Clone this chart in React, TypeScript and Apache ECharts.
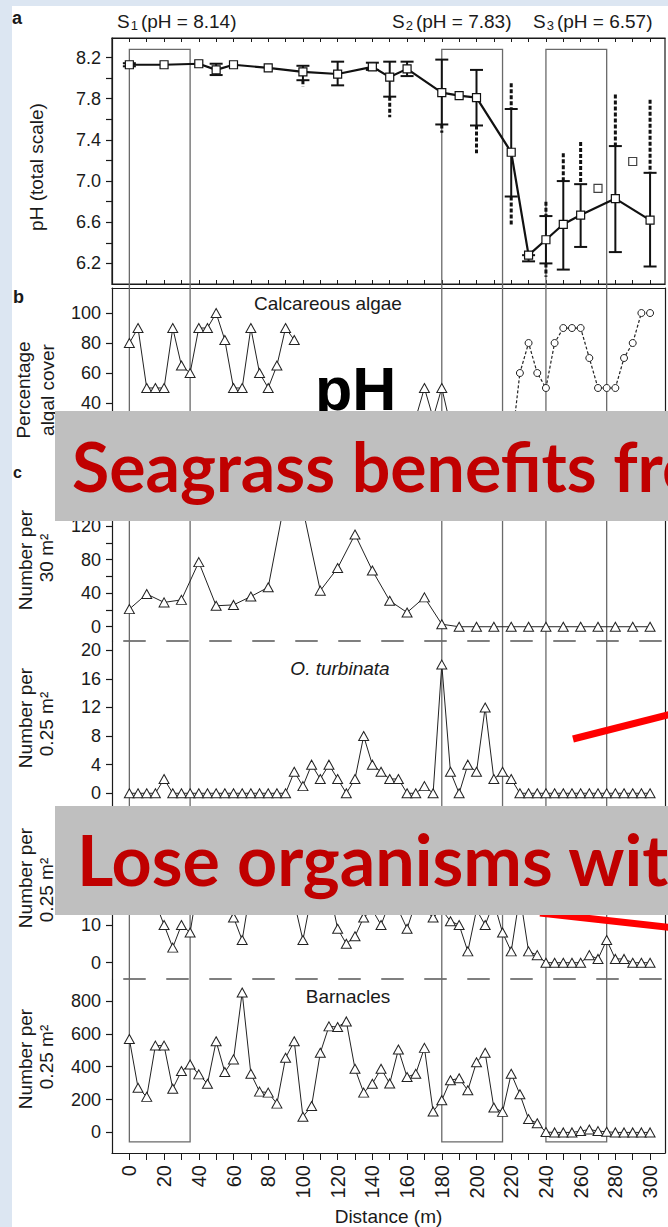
import React, { useEffect, useRef } from "react";
import * as echarts from "echarts";

const FONT = "'Liberation Sans', Arial, sans-serif";
const SLIDE_FONT = "Lato, 'Open Sans', sans-serif";
const INK = "#1a1a1a";

// Transect stations (m)
const stations5 = [0, 5, 10, 15, 20, 25, 30, 35, 40, 45, 50, 55, 60, 65, 70, 75, 80, 85, 90, 95, 100, 105, 110, 115, 120, 125, 130, 135, 140, 145, 150, 155, 160, 165, 170, 175, 180, 185, 190, 195, 200, 205, 210, 215, 220, 225, 230, 235, 240, 245, 250, 255, 260, 265, 270, 275, 280, 285, 290, 295, 300];
const stations10 = [0, 10, 20, 30, 40, 50, 60, 70, 80, 90, 100, 110, 120, 130, 140, 150, 160, 170, 180, 190, 200, 210, 220, 230, 240, 250, 260, 270, 280, 290, 300];
const distanceLabels = [0, 20, 40, 60, 80, 100, 120, 140, 160, 180, 200, 220, 240, 260, 280, 300];

// a: pH (total scale)
const phDistance = [0, 20, 40, 50, 60, 80, 100, 120, 140, 150, 160, 180, 190, 200, 220, 230, 240, 250, 260, 280, 300];
const phMean = [8.13, 8.13, 8.14, 8.08, 8.13, 8.1, 8.06, 8.04, 8.11, 8.01, 8.09, 7.86, 7.83, 7.81, 7.28, 6.28, 6.43, 6.58, 6.67, 6.83, 6.62];
const phLow = [8.115, null, null, 8.03, null, null, 7.98, 7.93, 8.08, 7.82, 8.02, 7.55, null, 7.54, 6.85, 6.22, 6.2, 6.14, 6.36, 6.31, 6.17];
const phHigh = [8.145, null, null, 8.14, null, null, 8.12, 8.16, 8.15, 8.16, 8.16, 8.18, null, 8.08, 7.7, 6.28, 6.66, 7.0, 6.97, 7.34, 7.08];
const phRangeLow = [null, null, null, null, null, null, 7.92, null, null, 7.62, null, 7.47, null, 7.27, 6.57, null, 6.07, null, null, null, null];
const phRangeHigh = [null, null, null, null, null, null, null, null, null, null, null, null, null, null, 7.95, null, 6.8, 7.27, 7.38, 7.84, 7.79];
const phExtraDistance = [270, 290];
const phExtraValue = [6.93, 7.19];
const phTicks = [6.2, 6.4, 6.6, 6.8, 7.0, 7.2, 7.4, 7.6, 7.8, 8.0, 8.2];
const phLabels = [6.2, 6.6, 7.0, 7.4, 7.8, 8.2];

// b: calcareous algae, percentage cover
const algaeSolid = [80, 90, 50, 50, 50, 90, 65, 60, 90, 90, 100, 82, 50, 50, 90, 60, 50, 65, 90, 82,
  null, null, null, null, null, null, null, null, null, null, null, null, null,
  30, 50, 30, 50, 25,
  null, null, null, null, null, null, null, null, null, null, null, null, null, null, null, null, null, null, null, null, null, null, null];
const algaeDotted = [null, null, null, null, null, null, null, null, null, null, null, null, null, null, null, null, null, null, null, null, null, null,
  null, null, null, null, null, null, null, null, null, null, null, null, null, null, null, null, null, null, null, null, null, null,
  10, 60, 80, 60, 50, 80, 90, 90, 90, 70, 50, 50, 50, 70, 80, 100, 100];
const algaeTicks = [0, 20, 40, 60, 80, 100];
const algaeLabels = [40, 60, 80, 100];

// c: number per 30 m2
const countPer30 = [21, 39, 29, 32, 77, 25, 26, 36, 47, 155, 140, 43, 70, 110, 67, 31, 17, 35, 3, 0, 0, 0, 0, 0, 0, 0, 0, 0, 0, 0, 0];
const per30Ticks = [0, 20, 40, 60, 80, 100, 120, 140, 160];
const per30Labels = [0, 40, 80, 120];

// O. turbinata, number per 0.25 m2
const turbinata = [0, 0, 0, 0, 2, 0, 0, 0, 0, 0, 0, 0, 0, 0, 0, 0, 0, 0, 0, 3, 1, 4, 2, 4, 2, 0, 2, 8, 4, 3, 2, 2, 0, 0, 1, 0, 18, 3, 0, 4, 3, 12, 2, 3, 2,
  0, 0, 0, 0, 0, 0, 0, 0, 0, 0, 0, 0, 0, 0, 0, 0];
const turbinataTicks = [0, 4, 8, 12, 16, 20];

// Fourth count panel, number per 0.25 m2
const gastropods = [22, 18, 16, 16, 10, 4, 10, 8, 22, 20, 18, 16, 12, 6, 20, 24, 22, 20, 18, 16, 6, 18, 16, 20, 9, 5, 7, 12, 14, 10, 16, 14, 9, 16, 14, 12, 14, 11, 10, 3, 14, 10, 16, 8, 3, 18, 3, 2,
  0, 0, 0, 0, 0, 2, 1, 6, 1, 1, 0, 0, 0];
const gastropodTicks = [0, 10, 20, 30, 40];
const gastropodLabels = [0, 10];

// Barnacles, number per 0.25 m2
const barnacles = [568, 272, 216, 528, 528, 266, 373, 413, 353, 296, 554, 367, 444, 851, 357, 248, 242, 175, 454, 554, 95, 161, 484, 645, 641, 675, 387, 242, 296, 387, 298, 504, 337, 357, 514, 127, 196, 317, 329, 256, 427, 484, 151, 125, 357, 232, 81, 56,
  2, 0, 0, 0, 8, 18, 8, 4, 0, 0, 0, 0, 0];
const barnacleTicks = [0, 200, 400, 600, 800];

// Sampling sites along the transect
const zoneStart = [0, 180, 240];
const zoneEnd = [35, 215, 275];
const siteIndex = ["1", "2", "3"];
const sitePH = ["8.14", "7.83", "6.57"];
const ZONE_TOP_PH = 8.28;
const ZONE_BOTTOM_COUNT = -57;

const X_MIN = -10;
const X_MAX = 308.6;

const pairs = (xs: number[], ys: (number | null)[]) => xs.map((x, i) => [x, ys[i] == null ? null : ys[i]]);

function hiddenX(gridIndex: number) {
  return {
    type: "value", gridIndex, min: X_MIN, max: X_MAX, interval: 10, show: false,
    axisLine: { onZero: false }, splitLine: { show: false },
  };
}

function frameX(gridIndex: number, position: string, opts: any) {
  return {
    type: "value", gridIndex, position, min: X_MIN, max: X_MAX, interval: 10,
    splitLine: { show: false },
    axisLine: { show: true, onZero: false, lineStyle: opts.line || { color: INK, width: 1.2 } },
    axisTick: opts.ticks
      ? { show: true, inside: opts.inside, length: opts.tickLength || 4, customValues: stations10, lineStyle: { color: INK, width: 1 } }
      : { show: false },
    axisLabel: opts.labels
      ? {
          show: true, rotate: 90, margin: 12, customValues: distanceLabels,
          formatter: (v: number) => (v >= 0 && v % 20 === 0 ? String(v) : ""),
          fontFamily: FONT, fontSize: 20, color: INK,
        }
      : { show: false },
  };
}

function leftY(gridIndex: number, min: number, max: number, ticks: number[], labels: number[], digits: number) {
  return {
    type: "value", gridIndex, position: "left", min, max,
    splitLine: { show: false },
    axisLine: { show: true, onZero: false, lineStyle: { color: INK, width: 1.2 } },
    axisTick: { show: true, length: 6, customValues: ticks, lineStyle: { color: INK, width: 1.2 } },
    axisLabel: {
      show: true, margin: 11, customValues: labels,
      formatter: (v: number) => (labels.some((l) => Math.abs(l - v) < 1e-6) ? v.toFixed(digits) : ""),
      fontFamily: FONT, fontSize: 18, color: INK,
    },
  };
}

function rightFrame(gridIndex: number) {
  return {
    type: "value", gridIndex, position: "right", min: 0, max: 1,
    splitLine: { show: false },
    axisLine: { show: true, onZero: false, lineStyle: { color: INK, width: 1.2 } },
    axisTick: { show: false }, axisLabel: { show: false },
  };
}

const countLine = (xAxisIndex: number, yAxisIndex: number, xs: number[], ys: (number | null)[]) => ({
  type: "line", xAxisIndex, yAxisIndex, data: pairs(xs, ys), z: 3,
  symbol: "triangle", symbolSize: [10, 9],
  itemStyle: { color: "#ffffff", borderColor: "#222", borderWidth: 1 },
  lineStyle: { color: "#222", width: 1 },
});

const dashed = { color: "#7f7f7f", width: 2, type: [21, 22], dashOffset: 31 };

function buildOption() {
  const errorData = phDistance
    .map((d, i) => [d, phLow[i], phHigh[i], phRangeLow[i] ?? phLow[i], phRangeHigh[i] ?? phHigh[i]])
    .filter((r) => r[1] != null);

  return {
    animation: false,
    backgroundColor: "#ffffff",
    grid: [
      { left: 112, right: 3, top: 38, height: 246, show: true, borderColor: INK, borderWidth: 1.2 },
      { left: 112, right: 3, top: 288, height: 182 },
      { left: 112, right: 3, top: 470, height: 171 },
      { left: 112, right: 3, top: 641, height: 167 },
      { left: 112, right: 3, top: 808, height: 171 },
      { left: 112, right: 3, top: 979, height: 175 },
    ],
    xAxis: [
      frameX(0, "bottom", { ticks: true, inside: true }), // 0
      frameX(0, "top", { ticks: true, inside: true }), // 1
      frameX(1, "top", {}), // 2
      hiddenX(1), // 3
      hiddenX(2), // 4
      frameX(3, "top", { line: dashed }), // 5
      hiddenX(4), // 6
      frameX(5, "top", { line: dashed }), // 7
      {
        ...frameX(5, "bottom", { ticks: true, inside: false, tickLength: 7, labels: true }), // 8
        name: "Distance (m)", nameLocation: "middle", nameGap: 54,
        nameTextStyle: { fontFamily: FONT, fontSize: 19, color: INK },
      },
    ],
    yAxis: [
      leftY(0, 6.0, 8.39, phTicks, phLabels, 1), // 0
      leftY(1, -4.7, 116.7, algaeTicks, algaeLabels, 0), // 1
      leftY(2, -17, 186.8, per30Ticks, per30Labels, 0), // 2
      leftY(3, -2.06, 21.3, turbinataTicks, turbinataTicks, 0), // 3
      leftY(4, -4.32, 41, gastropodTicks, gastropodLabels, 0), // 4
      leftY(5, -125.2, 933, barnacleTicks, barnacleTicks, 0), // 5
      rightFrame(1), rightFrame(2), rightFrame(3), rightFrame(4), rightFrame(5),
    ],
    series: [
      {
        type: "custom", xAxisIndex: 0, yAxisIndex: 0, z: 2,
        encode: { x: 0, y: [1, 2, 3, 4] },
        data: errorData,
        renderItem: (_params: any, api: any) => {
          const d = api.value(0);
          const [x, yLo] = api.coord([d, api.value(1)]);
          const yHi = api.coord([d, api.value(2)])[1];
          const yRlo = api.coord([d, api.value(3)])[1];
          const yRhi = api.coord([d, api.value(4)])[1];
          const solid = { stroke: "#111", lineWidth: 2 };
          const ext = { stroke: "#111", lineWidth: 3, lineDash: [4, 2] };
          const cap = 6.5;
          const children: any[] = [];
          if (yRlo > yLo + 0.5) children.push({ type: "line", shape: { x1: x, y1: yLo, x2: x, y2: yRlo }, style: ext });
          if (yRhi < yHi - 0.5) children.push({ type: "line", shape: { x1: x, y1: yRhi, x2: x, y2: yHi }, style: ext });
          children.push({ type: "line", shape: { x1: x, y1: yHi, x2: x, y2: yLo }, style: solid });
          children.push({ type: "line", shape: { x1: x - cap, y1: yHi, x2: x + cap, y2: yHi }, style: solid });
          children.push({ type: "line", shape: { x1: x - cap, y1: yLo, x2: x + cap, y2: yLo }, style: solid });
          return { type: "group", children };
        },
      },
      {
        type: "line", xAxisIndex: 0, yAxisIndex: 0, z: 3,
        data: pairs(phDistance, phMean),
        symbol: "rect", symbolSize: 8,
        itemStyle: { color: "#ffffff", borderColor: "#111", borderWidth: 1.2 },
        lineStyle: { color: "#111", width: 2.2 },
      },
      {
        type: "scatter", xAxisIndex: 0, yAxisIndex: 0, z: 3,
        data: pairs(phExtraDistance, phExtraValue),
        symbol: "rect", symbolSize: 8,
        itemStyle: { color: "#ffffff", borderColor: "#111", borderWidth: 1.2 },
      },
      countLine(3, 1, stations5, algaeSolid),
      {
        type: "line", xAxisIndex: 3, yAxisIndex: 1, z: 3,
        data: pairs(stations5, algaeDotted),
        symbol: "circle", symbolSize: 7,
        itemStyle: { color: "#ffffff", borderColor: "#222", borderWidth: 1 },
        lineStyle: { color: "#222", width: 1.2, type: [3, 2] },
      },
      countLine(4, 2, stations10, countPer30),
      countLine(5, 3, stations5, turbinata),
      countLine(6, 4, stations5, gastropods),
      countLine(8, 5, stations5, barnacles),
    ],
  };
}

function label(text: string, x: number, y: number, extra: any = {}, z = 10) {
  return {
    type: "text", x, y, z, silent: true,
    style: { text, fontFamily: FONT, fontSize: 19, fill: INK, align: "left", verticalAlign: "middle", ...extra },
  };
}

function axisName(text: string, x: number, y: number) {
  return {
    type: "text", x, y, z: 10, rotation: Math.PI / 2, silent: true,
    style: { text, fontFamily: FONT, fontSize: 19, fill: INK, align: "center", verticalAlign: "middle" },
  };
}

function slideText(text: string, x: number, y: number, size: number) {
  return {
    type: "text", x, y, z: 101, silent: true,
    style: { text, fontFamily: SLIDE_FONT, fontWeight: "bold", fontSize: size, fill: "#c00000", align: "left", verticalAlign: "middle" },
  };
}

function buildGraphics(chart: any) {
  const px = (d: number) => chart.convertToPixel({ xAxisIndex: 0 }, d) as number;
  const top = chart.convertToPixel({ yAxisIndex: 0 }, ZONE_TOP_PH) as number;
  const bottom = chart.convertToPixel({ yAxisIndex: 5 }, ZONE_BOTTOM_COUNT) as number;

  const zones = zoneStart.map((s, i) => ({
    type: "rect", z: 1, silent: true,
    shape: { x: px(s), y: top, width: px(zoneEnd[i]) - px(s), height: bottom - top },
    style: { fill: "none", stroke: "#6a6a6a", lineWidth: 1.3 },
  }));

  const siteX = [117, 392, 533];
  const sites = siteIndex.map((n, i) =>
    label(`{s|S}{n|${n}}{s|(pH = ${sitePH[i]})}`, siteX[i], 21, {
      rich: {
        s: { fontFamily: FONT, fontSize: 19, lineHeight: 22, fill: INK },
        n: { fontFamily: FONT, fontSize: 13, lineHeight: 12, fill: INK, verticalAlign: "bottom", padding: [0, 3, 0, 1] },
      },
    })
  );

  return [
    ...zones,
    ...sites,
    label("a", 12, 18, { fontWeight: "bold", fontSize: 18 }),
    label("b", 13, 297, { fontWeight: "bold", fontSize: 18 }),
    label("c", 13, 472, { fontWeight: "bold", fontSize: 16 }),
    label("Calcareous algae", 328, 303, { align: "center" }),
    label("O. turbinata", 340, 668, { align: "center", fontStyle: "italic" }),
    label("Barnacles", 348, 996, { align: "center" }),
    axisName("pH (total scale)", 36, 167),
    axisName("Percentage", 23, 390),
    axisName("algal cover", 47, 390),
    axisName("Number per", 25, 560),
    axisName("30 m²", 46, 558),
    axisName("Number per", 25, 718),
    axisName("0.25 m²", 46, 724),
    axisName("Number per", 25, 878),
    axisName("0.25 m²", 46, 890),
    axisName("Number per", 25, 1059),
    axisName("0.25 m²", 46, 1057),
    {
      type: "text", x: 315, y: 419, z: 50, silent: true,
      style: { text: "pH", fontFamily: FONT, fontWeight: "bold", fontSize: 61, fill: "#000", align: "left", verticalAlign: "bottom" },
    },
    { type: "rect", z: 100, silent: true, shape: { x: 55, y: 411, width: 620, height: 110 }, style: { fill: "#bfbfbf" } },
    slideText("Seagrass benefits from", 72, 465, 68),
    { type: "line", z: 99, silent: true, shape: { x1: 540, y1: 913, x2: 675, y2: 928 }, style: { stroke: "#ff0000", lineWidth: 7 } },
    { type: "rect", z: 100, silent: true, shape: { x: 55, y: 806, width: 620, height: 109 }, style: { fill: "#bfbfbf" } },
    slideText("Lose organisms with", 77, 859, 70),
    { type: "line", z: 102, silent: true, shape: { x1: 573, y1: 739, x2: 675, y2: 713 }, style: { stroke: "#ff0000", lineWidth: 7 } },
    { type: "rect", z: 200, silent: true, shape: { x: 0, y: 0, width: 668, height: 6 }, style: { fill: "#dce6f2" } },
    { type: "rect", z: 200, silent: true, shape: { x: 0, y: 0, width: 12, height: 1227 }, style: { fill: "#dce6f2" } },
  ];
}

export default function App() {
  const ref = useRef<HTMLDivElement>(null);
  useEffect(() => {
    document.body.style.margin = "0";
    const chart = echarts.init(ref.current as HTMLDivElement, null, { renderer: "svg" });
    chart.setOption(buildOption() as any);
    chart.setOption({ graphic: buildGraphics(chart) } as any);
    return () => chart.dispose();
  }, []);
  return <div ref={ref} style={{ width: 668, height: 1227 }} />;
}
